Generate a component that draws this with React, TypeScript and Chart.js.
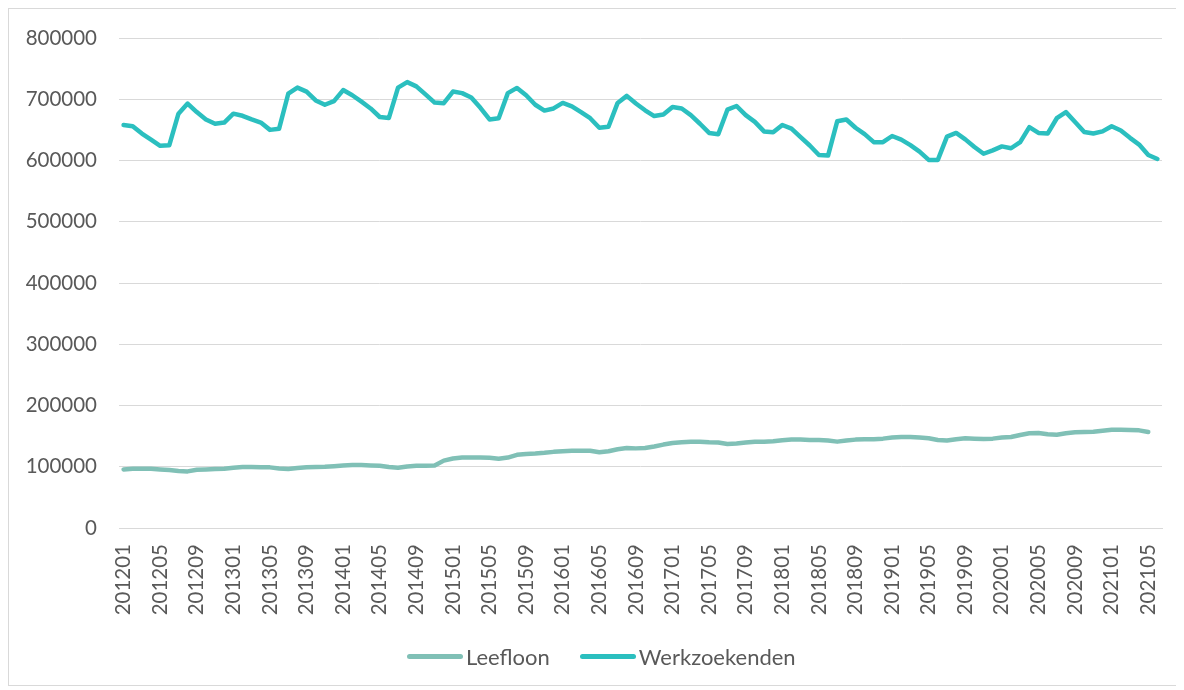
import { useEffect, useRef } from "react";
import { Chart, registerables } from "chart.js";

Chart.register(...registerables);

const months: string[] = [
  "201201", "201202", "201203", "201204", "201205", "201206", "201207", "201208", "201209", "201210", "201211", "201212",
  "201301", "201302", "201303", "201304", "201305", "201306", "201307", "201308", "201309", "201310", "201311", "201312",
  "201401", "201402", "201403", "201404", "201405", "201406", "201407", "201408", "201409", "201410", "201411", "201412",
  "201501", "201502", "201503", "201504", "201505", "201506", "201507", "201508", "201509", "201510", "201511", "201512",
  "201601", "201602", "201603", "201604", "201605", "201606", "201607", "201608", "201609", "201610", "201611", "201612",
  "201701", "201702", "201703", "201704", "201705", "201706", "201707", "201708", "201709", "201710", "201711", "201712",
  "201801", "201802", "201803", "201804", "201805", "201806", "201807", "201808", "201809", "201810", "201811", "201812",
  "201901", "201902", "201903", "201904", "201905", "201906", "201907", "201908", "201909", "201910", "201911", "201912",
  "202001", "202002", "202003", "202004", "202005", "202006", "202007", "202008", "202009", "202010", "202011", "202012",
  "202101", "202102", "202103", "202104", "202105", "202106",
];

const leefloon: number[] = [
  95700, 96800, 96800, 96800, 95700, 94600, 93000, 92400, 95000, 95700, 96200, 96800,
  98400, 99500, 99500, 99000, 99000, 97300, 96200, 97800, 99000, 99500, 100000, 101000,
  102000, 102700, 102700, 102000, 101600, 99500, 98400, 100500, 101600, 101600, 102000, 110000,
  113500, 115000, 115000, 115000, 114600, 113000, 115000, 119500, 121000, 121600, 122700, 124300,
  125400, 126000, 126000, 126000, 123800, 125400, 128600, 130500, 130000, 130500, 133000, 136200,
  138900, 140000, 141000, 141000, 140000, 139500, 137300, 137800, 139500, 141000, 141000, 141600,
  143200, 144300, 144300, 143800, 143800, 142700, 141000, 142700, 144300, 144900, 144900, 145900,
  147600, 148600, 148600, 147600, 146500, 143800, 142700, 144900, 146500, 145900, 145400, 145900,
  147600, 148600, 151900, 154600, 155100, 153000, 152400, 154600, 156200, 156800, 157300, 158900,
  160500, 160500, 160000, 159400, 156800,
];

const werkzoekenden: number[] = [
  658000, 656000, 644000, 634000, 624000, 625000, 676500, 693000, 679000, 667000, 660000, 662000,
  676500, 673000, 667000, 662000, 650000, 652000, 709000, 719000, 712500, 698000, 691000, 697000,
  715000, 706500, 696000, 685000, 671000, 669500, 719000, 728000, 721000, 708000, 694500, 693500,
  712500, 710000, 703000, 686000, 667000, 669000, 710000, 718500, 706500, 691000, 681500, 685000,
  694000, 688500, 679000, 669000, 653500, 655000, 694000, 705500, 693000, 682000, 672500, 675000,
  687500, 685000, 674000, 660000, 645000, 643000, 683000, 689000, 674000, 663000, 647500, 646000,
  658000, 652000, 638000, 624500, 609000, 608000, 664000, 667000, 653500, 643000, 630000, 630000,
  640000, 634000, 625000, 614500, 601000, 601000, 639000, 645000, 634500, 622000, 611000, 616500,
  623000, 620000, 630000, 654500, 645000, 644000, 669000, 679000, 663000, 646500, 644000, 647500,
  656000, 649000, 637000, 626000, 609000, 602500,
];

const seriesNames: string[] = ["Leefloon", "Werkzoekenden"];
const seriesColors: string[] = ["#80C0B6", "#2BBFBF"];
const yTicks: number[] = [0, 100000, 200000, 300000, 400000, 500000, 600000, 700000, 800000];

const textColor = "#595959";
const gridColor = "#d9d9d9";

export default function App() {
  const canvasRef = useRef<HTMLCanvasElement | null>(null);

  useEffect(() => {
    if (!canvasRef.current) return;
    const font = { family: "Lato", size: 20.5 };
    const mk = (i: number, data: number[]) => ({
      label: seriesNames[i],
      data,
      borderColor: seriesColors[i],
      backgroundColor: seriesColors[i],
      borderWidth: 4.5,
      pointRadius: 0,
      tension: 0,
      borderJoinStyle: "round" as const,
      borderCapStyle: "round" as const,
    });
    const chart = new Chart(canvasRef.current, {
      type: "line",
      data: {
        labels: months,
        datasets: [mk(0, leefloon), mk(1, werkzoekenden)],
      },
      options: {
        animation: false,
        responsive: false,
        maintainAspectRatio: false,
        layout: { padding: { top: 29, right: 15, bottom: 49, left: 0 } },
        plugins: {
          tooltip: { enabled: false },
          legend: { display: false },
        },
        scales: {
          x: {
            offset: true,
            grid: { display: false, drawTicks: false },
            border: { display: true, color: gridColor, width: 1 },
            ticks: {
              autoSkip: false,
              minRotation: 90,
              maxRotation: 90,
              padding: 16,
              color: textColor,
              font,
              callback: (_v: any, idx: number) => (idx % 4 === 0 ? months[idx] : null),
            },
            afterFit: (s: any) => {
              s.height = 108;
              s.paddingLeft = 0;
              s.paddingRight = 0;
            },
          },
          y: {
            min: 0,
            max: 800000,
            afterBuildTicks: (s: any) => {
              s.ticks = yTicks.map((v) => ({ value: v }));
            },
            grid: { color: gridColor, lineWidth: 1, drawTicks: false },
            border: { display: false },
            ticks: {
              padding: 22,
              color: textColor,
              font,
              callback: (v: any) => String(v),
            },
            afterFit: (s: any) => {
              s.width = 110;
              s.paddingTop = 0;
              s.paddingBottom = 0;
            },
          },
        },
      },
    });
    return () => chart.destroy();
  }, []);

  return (
    <div
      style={{
        position: "relative",
        width: 1170,
        height: 678,
        border: "1px solid #d9d9d9",
        boxSizing: "border-box",
        background: "#fff",
      }}
    >
      <canvas ref={canvasRef} width={1168} height={676} style={{ display: "block" }} />
      <div
        style={{
          position: "absolute",
          left: 398,
          top: 634,
          height: 26,
          display: "flex",
          alignItems: "center",
          fontFamily: "Lato",
          fontSize: 22,
          color: textColor,
          whiteSpace: "nowrap",
        }}
      >
        {seriesNames.map((name, i) => (
          <div key={name} style={{ display: "flex", alignItems: "center", marginLeft: i === 0 ? 0 : 30 }}>
            <span
              style={{
                display: "inline-block",
                width: 56,
                height: 5,
                borderRadius: 3,
                background: seriesColors[i],
                marginRight: 3,
              }}
            />
            <span>{name}</span>
          </div>
        ))}
      </div>
    </div>
  );
}
